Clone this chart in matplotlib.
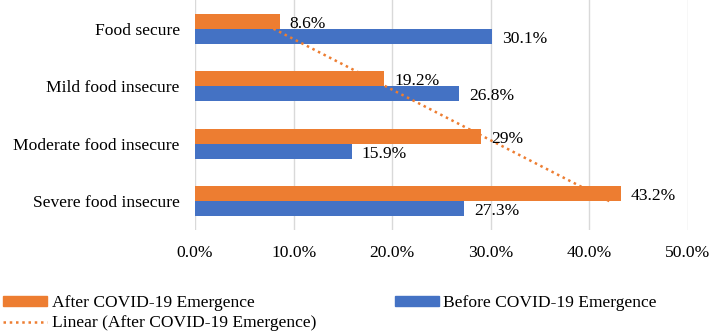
import numpy as np
import matplotlib.pyplot as plt
from matplotlib.patches import Patch
from matplotlib.lines import Line2D

categories = ['Food secure', 'Mild food insecure', 'Moderate food insecure', 'Severe food insecure']
after_vals = [8.6, 19.2, 29.0, 43.2]
before_vals = [30.1, 26.8, 15.9, 27.3]
after_labels = ['8.6%', '19.2%', '29%', '43.2%']
before_labels = ['30.1%', '26.8%', '15.9%', '27.3%']
xticks = [0, 10, 20, 30, 40, 50]

orange = '#ED7D31'
blue = '#4472C4'
fs = 12.6

plt.rcParams['font.family'] = ['Liberation Serif', 'DejaVu Serif']

fig = plt.figure(figsize=(7.1, 3.36), dpi=100)
ax = fig.add_axes([195 / 710, 1 - 230 / 336, (688 - 195) / 710, 230 / 336])

y = np.arange(len(categories))
h = 0.26
ax.barh(y - h / 2, after_vals, height=h, color=orange, zorder=2)
ax.barh(y + h / 2, before_vals, height=h, color=blue, zorder=2)

for yi, v, lab in zip(y, after_vals, after_labels):
    ax.text(v + 1.0, yi - h / 2 + 0.04, lab, va='center', ha='left', fontsize=fs, zorder=4)
for yi, v, lab in zip(y, before_vals, before_labels):
    ax.text(v + 1.0, yi + h / 2 + 0.04, lab, va='center', ha='left', fontsize=fs, zorder=4)

# linear trend of the after series
coef = np.polyfit(y + 1, after_vals, 1)
trend = np.polyval(coef, y + 1)
ax.plot(trend, y, linestyle=(0, (1, 1.5)), color=orange, lw=1.8, zorder=3)

ax.set_ylim(3.5, -0.5)
ax.set_xlim(0, 50)
ax.set_xticks(xticks)
ax.set_xticklabels([f'{t:.1f}%' for t in xticks], fontsize=fs)
ax.set_yticks(y)
ax.set_yticklabels(categories, fontsize=fs)
ax.tick_params(length=0)
ax.tick_params(axis='y', pad=11)
ax.tick_params(axis='x', pad=11)
ax.grid(axis='x', color='#D9D9D9', lw=1, zorder=0)
for s in ax.spines.values():
    s.set_visible(False)

handles = [Patch(color=orange), Line2D([], [], color=orange, linestyle=(0, (1, 1.5)), lw=1.8),
           Patch(color=blue)]
labels = ['After COVID-19 Emergence', 'Linear (After COVID-19 Emergence)', 'Before COVID-19 Emergence']
fig.legend(handles, labels, ncol=2, loc='lower left', bbox_to_anchor=(-0.008, -0.012),
           frameon=False, fontsize=fs, handlelength=2.5, handleheight=0.45,
           columnspacing=4.5, handletextpad=0.28, labelspacing=0.22, borderaxespad=0.1)

fig.savefig('out.png', dpi=100)
